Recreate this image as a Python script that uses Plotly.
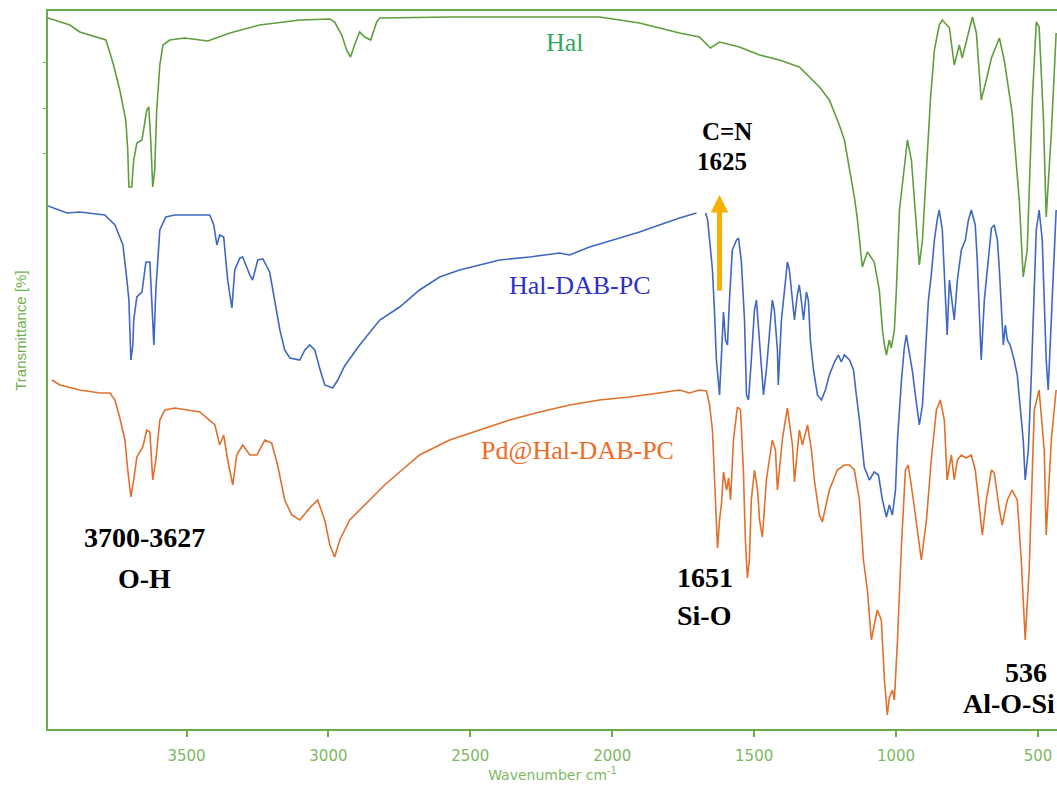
import plotly.graph_objects as go

# ---------------- data (wavenumber cm-1, transmittance a.u.) ----------------
hal_wn = [3988, 3911, 3876, 3805, 3784, 3759, 3735, 3714, 3707, 3703, 3693, 3686, 3675, 3657,
          3640, 3633, 3626, 3619, 3612, 3605, 3594, 3583, 3559, 3506, 3453, 3425, 3347, 3242,
          3101, 2995, 2978, 2953, 2936, 2922, 2908, 2890, 2872, 2851, 2830, 2819, 2573, 2291,
          2045, 1974, 1904, 1834, 1763, 1693, 1654, 1622, 1552, 1481, 1411, 1341, 1305, 1270,
          1235, 1200, 1182, 1165, 1147, 1136, 1119, 1101, 1077, 1059, 1048, 1041, 1034, 1024,
          1017, 1006, 999, 988, 971, 960, 946, 932, 918, 907, 893, 879, 865, 848, 837, 812,
          795, 777, 767, 753, 731, 717, 700, 682, 664, 636, 619, 591, 566, 552, 538, 520, 506,
          496, 481, 471, 453, 436]
hal_t = [71.1, 70.4, 69.7, 69.1, 68.9, 66.6, 63.9, 60.9, 57.9, 54.2, 54.2, 56.9, 58.6, 58.9,
         61.9, 62.2, 58.9, 54.2, 55.9, 61.9, 66.4, 68.4, 68.9, 69.1, 68.9, 68.8, 69.6, 70.4,
         70.9, 71.0, 70.7, 69.4, 67.9, 67.2, 68.4, 69.7, 69.2, 68.9, 70.7, 71.1, 71.2, 71.2,
         71.2, 70.9, 70.6, 70.1, 69.6, 69.2, 68.1, 68.7, 68.2, 67.4, 66.9, 66.2, 65.2, 64.2,
         62.9, 60.4, 58.9, 56.2, 53.2, 50.9, 46.2, 47.7, 46.7, 43.9, 39.9, 38.4, 37.4, 38.9,
         38.1, 39.9, 43.9, 51.9, 55.9, 58.9, 56.9, 51.4, 46.4, 48.9, 55.9, 62.9, 67.9, 70.4,
         70.9, 70.1, 66.4, 68.4, 67.1, 68.7, 71.2, 69.6, 62.9, 64.9, 67.1, 69.1, 66.9, 61.6,
         52.9, 45.2, 47.9, 62.9, 70.7, 70.2, 61.2, 51.2, 59.6, 69.6]

dab_wn = [3988, 3921, 3876, 3788, 3752, 3724, 3710, 3703, 3696, 3689, 3686, 3675, 3657, 3643,
          3629, 3619, 3615, 3608, 3594, 3573, 3541, 3418, 3404, 3393, 3383, 3369, 3355, 3340,
          3330, 3312, 3302, 3277, 3267, 3249, 3231, 3207, 3189, 3171, 3154, 3136, 3101, 3083,
          3066, 3048, 3031, 3013, 2985, 2967, 2943, 2890, 2819, 2749, 2679, 2608, 2538, 2467,
          2397, 2291, 2186, 2150, 2080, 1974, 1904, 1834, 1763, 1703, 1687, 1671, 1664, 1657,
          1647, 1640, 1633, 1622, 1615, 1608, 1601, 1594, 1587, 1577, 1562, 1555, 1545, 1534,
          1527, 1520, 1510, 1499, 1492, 1485, 1474, 1467, 1457, 1446, 1436, 1429, 1418, 1415,
          1404, 1393, 1383, 1376, 1369, 1358, 1348, 1341, 1334, 1326, 1316, 1309, 1302, 1291,
          1277, 1263, 1249, 1235, 1217, 1203, 1193, 1182, 1164, 1150, 1140, 1129, 1112, 1094,
          1077, 1062, 1048, 1034, 1024, 1013, 1002, 995, 981, 971, 964, 953, 943, 932, 918,
          907, 897, 886, 876, 865, 855, 848, 837, 830, 823, 820, 812, 802, 795, 784, 770, 756,
          745, 735, 721, 714, 707, 700, 689, 679, 664, 654, 643, 636, 629, 622, 615, 608, 598,
          584, 573, 562, 552, 545, 534, 524, 513, 506, 496, 485, 478, 471, 464, 453, 446, 439,
          436]
dab_t = [52.3, 51.6, 51.7, 51.4, 50.4, 48.4, 44.9, 42.9, 36.9, 38.4, 40.9, 43.2, 43.7, 46.7,
         46.7, 40.4, 38.4, 43.9, 49.9, 51.2, 51.4, 51.4, 50.4, 48.4, 49.4, 49.2, 44.9, 42.1,
         45.9, 47.1, 47.2, 45.4, 44.9, 46.9, 47.0, 45.7, 42.9, 39.9, 37.9, 37.1, 36.9, 37.9,
         38.4, 37.9, 36.1, 34.4, 34.1, 34.9, 36.3, 38.4, 40.9, 42.2, 43.9, 45.2, 45.9, 46.4,
         46.9, 47.2, 47.6, 47.4, 48.2, 49.1, 49.7, 50.4, 51.1, 51.6, None, 51.6, 50.9, 48.9,
         45.9, 41.9, 36.9, 33.4, 38.4, 41.7, 38.9, 38.4, 42.9, 47.9, 48.9, 49.1, 46.7, 40.9,
         33.4, 32.9, 36.9, 41.9, 42.9, 40.4, 35.9, 33.4, 35.9, 39.9, 42.9, 41.9, 37.9, 34.4,
         40.9, 43.9, 46.7, 45.9, 43.9, 40.9, 43.4, 44.4, 42.9, 40.9, 43.7, 42.9, 38.9, 35.9,
         33.4, 32.9, 33.9, 35.4, 36.7, 37.4, 36.7, 37.4, 36.9, 35.9, 33.4, 30.9, 26.2, 24.9,
         25.7, 25.4, 22.9, 21.2, 22.4, 21.4, 23.9, 28.9, 34.9, 38.1, 39.4, 37.7, 35.9, 33.4,
         30.4, 32.4, 37.4, 42.9, 45.4, 48.9, 50.9, 51.9, 49.9, 45.9, 41.9, 39.4, 44.9, 42.4,
         40.9, 44.9, 47.9, 48.9, 50.9, 51.9, 50.4, 46.9, 41.9, 36.9, 42.9, 45.9, 50.1, 50.4,
         48.9, 45.9, 41.9, 38.4, 40.4, 38.9, 38.4, 36.9, 35.4, 31.9, 28.9, 24.9, 27.9, 34.9,
         42.9, 49.9, 51.9, 48.9, 42.9, 36.9, 33.9, 40.9, 46.9, 50.9, 51.9]

pd_wn = [3974, 3946, 3876, 3805, 3770, 3752, 3735, 3717, 3707, 3696, 3686, 3675, 3654, 3640,
         3629, 3619, 3608, 3594, 3576, 3541, 3453, 3400, 3383, 3369, 3355, 3337, 3323, 3302,
         3277, 3252, 3224, 3200, 3179, 3154, 3129, 3101, 3066, 3038, 3013, 2995, 2978, 2960,
         2925, 2872, 2802, 2749, 2679, 2573, 2467, 2362, 2256, 2150, 2045, 1939, 1834, 1763,
         1728, 1693, 1668, 1657, 1647, 1636, 1629, 1622, 1615, 1608, 1597, 1590, 1583, 1573,
         1559, 1548, 1538, 1531, 1524, 1517, 1510, 1499, 1488, 1481, 1471, 1457, 1436, 1425,
         1418, 1400, 1383, 1365, 1358, 1341, 1330, 1312, 1298, 1288, 1270, 1260, 1235, 1207,
         1182, 1164, 1147, 1129, 1115, 1101, 1087, 1077, 1066, 1052, 1041, 1031, 1024, 1013,
         1006, 995, 981, 967, 957, 939, 925, 911, 893, 876, 858, 844, 830, 820, 805, 795, 784,
         770, 753, 735, 721, 707, 696, 682, 664, 654, 636, 626, 608, 591, 573, 559, 545, 531,
         513, 496, 478, 471, 453, 436]
pd_t = [34.9, 34.4, 33.9, 33.6, 33.6, 32.9, 31.1, 28.9, 25.9, 23.2, 24.9, 27.2, 28.2, 29.9,
        29.7, 24.9, 26.9, 30.9, 31.9, 32.1, 31.7, 30.4, 28.4, 29.4, 26.9, 24.4, 27.4, 28.4,
        27.4, 27.4, 28.9, 28.6, 26.4, 22.9, 21.4, 20.9, 22.1, 22.9, 20.9, 18.4, 17.2, 18.9,
        20.9, 22.4, 24.4, 25.7, 27.4, 28.9, 29.9, 30.9, 31.7, 32.4, 32.9, 33.2, 33.6, 33.9,
        33.6, 33.9, 33.8, 32.4, 29.9, 22.9, 18.1, 20.9, 22.6, 25.7, 23.9, 25.1, 22.9, 28.9,
        32.2, 31.9, 25.9, 18.9, 15.1, 16.9, 22.9, 25.9, 23.9, 20.9, 19.2, 24.9, 28.9, 27.9,
        23.9, 29.1, 32.1, 28.4, 24.7, 29.9, 28.4, 30.4, 27.9, 24.9, 21.4, 20.7, 23.9, 25.9,
        26.4, 26.4, 25.9, 22.9, 16.9, 13.9, 8.9, 10.4, 11.9, 10.9, 4.9, 1.4, 3.1, 3.9,
        2.9, 8.9, 18.4, 25.9, 26.4, 22.9, 19.9, 16.9, 20.9, 26.9, 31.9, 32.9, 30.9, 24.9, 27.4,
        24.9, 26.9, 27.4, 27.1, 27.4, 25.9, 22.4, 19.4, 22.9, 25.9, 25.6, 21.9, 20.4, 22.9,
        23.9, 22.9, 16.9, 8.9, 15.9, 31.9, 33.9, 27.9, 19.4, 28.9, 33.9]

x_ticks = [3500, 3000, 2500, 2000, 1500, 1000, 500]
y_minor_ticks = [66.7, 62.1, 57.6]

series_names = ["Hal", "Hal-DAB-PC", "Pd@Hal-DAB-PC"]

# ---------------- styling ----------------
AXIS_GREEN = "#6aab4a"
TICK_GREEN = "#7db862"
line_colors = ["#5e9e3c", "#3f68c0", "#e0702c"]
label_colors = ["#35a85a", "#2b2fd0", "#f06a22"]

fig = go.Figure()
for wn, t, name, c in zip([hal_wn, dab_wn, pd_wn], [hal_t, dab_t, pd_t], series_names, line_colors):
    fig.add_trace(go.Scatter(x=wn, y=t, mode="lines", name=name,
                             line=dict(color=c, width=1.6, shape="linear")))

SERIF = "Liberation Serif, Times New Roman, serif"

# series labels
series_label_pos = [(2168, 68.7), (2115, 44.4), (2122, 27.9)]
for name, (lx, ly), c in zip(series_names, series_label_pos, label_colors):
    fig.add_annotation(x=lx, y=ly, text=name, showarrow=False,
                       font=dict(family=SERIF, size=26, color=c))

# band annotations (text, x, y, size)
band_labels = [
    ("3700-3627", 3647, 19.2, 28), ("O-H", 3647, 15.1, 28),
    ("C=N", 1594, 59.8, 25), ("1625", 1615, 56.8, 25),
    ("1651", 1672, 15.2, 28), ("Si-O", 1675, 11.4, 28),
    ("536", 541, 5.7, 28), ("Al-O-Si", 601, 2.6, 28),
]
for txt, lx, ly, sz in band_labels:
    fig.add_annotation(x=lx, y=ly, text="<b>%s</b>" % txt, showarrow=False,
                       font=dict(family=SERIF, size=sz, color="black"))

# arrow for C=N band
fig.add_annotation(x=1622, y=53.4, ax=1622, ay=43.7, xref="x", yref="y",
                   axref="x", ayref="y", text="", showarrow=True,
                   arrowhead=2, arrowsize=0.7, arrowwidth=5, arrowcolor="#f5b000")

# y-axis title placed like the reference
fig.add_annotation(xref="paper", yref="paper", x=-0.0275, y=0.555,
                   xanchor="center", yanchor="middle",
                   text="Transmittance [%]", textangle=-90, showarrow=False,
                   font=dict(family="Liberation Sans, Arial, sans-serif", size=15, color="#72b04f"))

fig.update_layout(
    width=1057, height=785,
    margin=dict(l=48, r=0, t=11, b=56),
    paper_bgcolor="white", plot_bgcolor="white",
    showlegend=False,
    xaxis=dict(range=[3988, 433], tickvals=x_ticks, ticks="outside", ticklen=6,
               tickwidth=2, tickcolor=AXIS_GREEN, showline=True, linecolor=AXIS_GREEN,
               linewidth=2, mirror=True, showgrid=False, zeroline=False,
               ticklabelstandoff=6,
               tickfont=dict(family="DejaVu Sans, Verdana, sans-serif", size=15, color=TICK_GREEN),
               title=dict(text="Wavenumber cm<sup>-1</sup>", standoff=0,
                          font=dict(family="DejaVu Sans, Verdana, sans-serif", size=14,
                                    color=TICK_GREEN))),
    yaxis=dict(range=[0, 71.8], tickvals=y_minor_ticks, ticks="outside", ticklen=3,
               tickcolor=AXIS_GREEN, showticklabels=False, showline=True,
               linecolor=AXIS_GREEN, linewidth=2, showgrid=False, zeroline=False),
)

fig.write_html("out.html")
